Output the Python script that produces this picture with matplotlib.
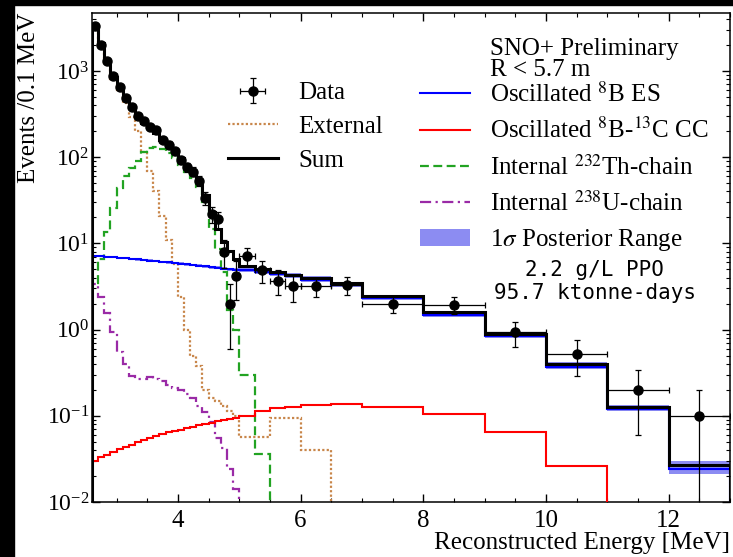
import numpy as np
import matplotlib
matplotlib.use("Agg")
import matplotlib.pyplot as plt
from matplotlib.patches import Rectangle, Patch
from matplotlib.lines import Line2D
from matplotlib.ticker import MultipleLocator, LogLocator, NullFormatter

plt.rcParams["font.family"] = "serif"
plt.rcParams["font.serif"] = ["Liberation Serif", "DejaVu Serif"]
plt.rcParams["mathtext.fontset"] = "stix"

# ── bin edges [MeV] ─────────────────────────────────────────────────────────
edges = [2.6, 2.7, 2.8, 2.9, 3.0, 3.1, 3.2, 3.3, 3.4, 3.5, 3.6, 3.7, 3.8, 3.9,
         4.0, 4.1, 4.2, 4.3, 4.4, 4.5, 4.6, 4.7, 4.8, 4.9, 5.0,
         5.25, 5.5, 5.75, 6.0, 6.5, 7.0, 8.0, 9.0, 10.0, 11.0, 12.0, 13.0]

# events / 0.1 MeV per bin
sum_vals = [3300, 2100, 1270, 850, 636, 487, 383, 294, 250, 220, 192, 160,
            140, 120, 97, 80, 68, 55, 36, 23, 14.5, 10.5, 8.1, 6.6,
            5.4, 5.0, 4.6, 4.3, 3.95, 3.45, 2.44, 1.58, 0.89, 0.40, 0.127, 0.027]
ext_vals = [3200, 2000, 1220, 800, 600, 420, 290, 200, 115, 70, 40, 21,
            11, 5.8, 2.4, 1.0, 0.5, 0.38, 0.2, 0.16, 0.15, 0.13, 0.115, 0.10,
            0.057, 0.057, 0.095, 0.095, 0.040, 0, 0, 0, 0, 0, 0, 0]
th_vals = [3.5, 6.5, 13.5, 26, 44, 60, 75, 90, 115, 128, 130, 125,
           112, 98, 82, 68, 58, 45, 30, 14.5, 8.5, 4.6, 1.7, 1.0,
           0.30, 0.036, 0, 0, 0, 0, 0, 0, 0, 0, 0, 0]
u_vals = [3.4, 2.4, 1.55, 0.93, 0.55, 0.40, 0.29, 0.27, 0.27, 0.28, 0.27, 0.25,
          0.23, 0.21, 0.20, 0.18, 0.16, 0.13, 0.11, 0.085, 0.055, 0.042, 0.024, 0.014,
          0, 0, 0, 0, 0, 0, 0, 0, 0, 0, 0, 0]
es_vals = [7.2, 7.1, 7.0, 6.9, 6.8, 6.7, 6.6, 6.5, 6.4, 6.3, 6.2, 6.1,
           6.0, 5.9, 5.8, 5.7, 5.6, 5.5, 5.4, 5.3, 5.2, 5.1, 5.0, 4.95,
           4.85, 4.6, 4.4, 4.15, 3.8, 3.3, 2.3, 1.47, 0.84, 0.37, 0.12, 0.024]
cc_vals = [0.030, 0.033, 0.035, 0.038, 0.041, 0.044, 0.046, 0.049, 0.052, 0.055, 0.058, 0.061,
           0.064, 0.066, 0.069, 0.072, 0.075, 0.078, 0.080, 0.083, 0.086, 0.089, 0.092, 0.095,
           0.100, 0.113, 0.122, 0.128, 0.134, 0.137, 0.128, 0.105, 0.065, 0.026, 0, 0]
band_lo = [7.0, 6.9, 6.8, 6.7, 6.6, 6.5, 6.4, 6.3, 6.2, 6.1, 6.0, 5.9,
           5.8, 5.7, 5.6, 5.5, 5.4, 5.3, 5.2, 5.1, 5.0, 4.9, 4.8, 4.75,
           4.6, 4.4, 4.2, 3.95, 3.6, 3.15, 2.2, 1.40, 0.80, 0.35, 0.113, 0.021]
band_hi = [7.4, 7.3, 7.2, 7.1, 7.0, 6.9, 6.8, 6.7, 6.6, 6.5, 6.4, 6.3,
           6.2, 6.1, 6.0, 5.9, 5.8, 5.7, 5.6, 5.5, 5.4, 5.3, 5.2, 5.15,
           5.6, 5.2, 4.8, 4.5, 4.15, 3.6, 2.55, 1.65, 0.93, 0.42, 0.135, 0.030]

data_y = [3300, 2000, 1300, 880, 650, 490, 380, 300, 260, 225, 205, 160,
          140, 118, 92, 76, 68, 53, 34, 22, 19, 8.0, 2.0, 4.2,
          7.2, 4.9, 3.7, 3.2, 3.2, 3.3, 2.0, 1.95, 0.93, 0.52, 0.2, 0.1]
data_err = [57, 45, 36, 30, 25, 22, 19.5, 17, 16, 15, 14, 12.6,
            12, 11, 9.6, 8.7, 8.2, 7.3, 5.8, 4.7, 4.4, 2.8, 1.4, 2.0,
            1.7, 1.4, 1.2, 1.1, 0.8, 0.8, 0.45, 0.44, 0.30, 0.23, 0.14, 0.1]

ed = np.array(edges)
xc = 0.5 * (ed[:-1] + ed[1:])
xe = 0.5 * (ed[1:] - ed[:-1])

C_EXT = "#c8864a"
C_TH = "#22a322"
C_U = "#9a2aa6"
C_BAND = "#7878f0"

fig = plt.figure(figsize=(7.33, 5.57), dpi=100)
ax = fig.add_axes([92/733, 55/557, 638/733, 489/557])

ax.stairs(band_hi, edges, baseline=band_lo, fill=True, color=C_BAND, alpha=0.85, lw=0, zorder=1)
ax.stairs(ext_vals, edges, color=C_EXT, lw=1.6, ls=(0, (1, 1)), zorder=2)
ax.stairs(th_vals, edges, color=C_TH, lw=1.6, ls=(0, (4, 2)), zorder=2)
ax.stairs(u_vals, edges, color=C_U, lw=1.6, ls=(0, (5, 2, 1, 2)), zorder=2)
ax.stairs(cc_vals, edges, color="red", lw=1.5, zorder=3)
ax.stairs(es_vals, edges, color="blue", lw=1.5, zorder=3)
ax.stairs(sum_vals, edges, color="black", lw=2.2, zorder=4)
eb = ax.errorbar(xc, data_y, xerr=xe, yerr=data_err, fmt="o", color="black",
                 ms=6.5, elinewidth=0.9, capsize=2.2, capthick=0.9, zorder=5)

ax.set_yscale("log")
ax.set_xlim(2.6, 13)
ax.set_ylim(0.01, 4700)
ax.xaxis.set_major_locator(MultipleLocator(2))
ax.xaxis.set_minor_locator(MultipleLocator(0.5))
ax.yaxis.set_major_locator(LogLocator(base=10, numticks=12))
ax.yaxis.set_minor_locator(LogLocator(base=10, subs=np.arange(2, 10), numticks=12))
ax.yaxis.set_minor_formatter(NullFormatter())
ax.tick_params(which="both", direction="in", top=True, right=True, labelsize=18)
ax.tick_params(which="major", length=6, width=1)
ax.tick_params(which="minor", length=3, width=0.8)
ax.tick_params(axis="x", which="major", pad=6)
ax.tick_params(axis="y", which="major", pad=2, labelsize=17)
for s in ax.spines.values():
    s.set_linewidth(1.1)

ax.set_xlabel("Reconstructed Energy [MeV]", fontsize=18, loc="right", labelpad=0)
ax.set_ylabel("Events /0.1 MeV", fontsize=18, loc="top")
ax.yaxis.set_label_coords(-0.082, 1.0)

# legends
h_left = [eb,
          Line2D([], [], color=C_EXT, lw=1.6, ls=(0, (1, 1))),
          Line2D([], [], color="black", lw=2.2)]
l_left = ["Data", "External", "Sum"]
h_right = [Line2D([], [], color="blue", lw=1.5),
           Line2D([], [], color="red", lw=1.5),
           Line2D([], [], color=C_TH, lw=1.6, ls=(0, (4, 2))),
           Line2D([], [], color=C_U, lw=1.6, ls=(0, (5, 2, 1, 2))),
           Patch(facecolor=C_BAND, alpha=0.85, lw=0)]
l_right = [r"Oscillated $^{8}$B ES", r"Oscillated $^{8}$B-$^{13}$C CC",
           r"Internal $^{232}$Th-chain", r"Internal $^{238}$U-chain",
           r"1$\sigma$ Posterior Range"]
kw = dict(frameon=False, fontsize=18, handlelength=2.0, handletextpad=0.8,
          labelspacing=0.45, borderpad=0, borderaxespad=0, loc="upper left")
leg1 = ax.legend(h_left, l_left, bbox_to_anchor=(0.213, 0.859), **kw)
ax.add_artist(leg1)
ax.legend(h_right, l_right, bbox_to_anchor=(0.514, 0.859), **kw)

ax.text(0.624, 0.926, "SNO+ Preliminary", transform=ax.transAxes, fontsize=18, va="center")
ax.text(0.624, 0.884, "R < 5.7 m", transform=ax.transAxes, fontsize=18, va="center")
ax.text(0.788, 0.474, "2.2 g/L PPO", transform=ax.transAxes, fontsize=15,
        ha="center", va="center", family="DejaVu Sans Mono")
ax.text(0.788, 0.427, "95.7 ktonne-days", transform=ax.transAxes, fontsize=15,
        ha="center", va="center", family="DejaVu Sans Mono")

# dark frame strips of the original screenshot
fig.add_artist(Rectangle((0, 0), 14/733, 1, transform=fig.transFigure, color="black", zorder=10))
fig.add_artist(Rectangle((0, 1 - 5/557), 1, 5/557, transform=fig.transFigure, color="black", zorder=10))

fig.savefig("out.png", dpi=100)
